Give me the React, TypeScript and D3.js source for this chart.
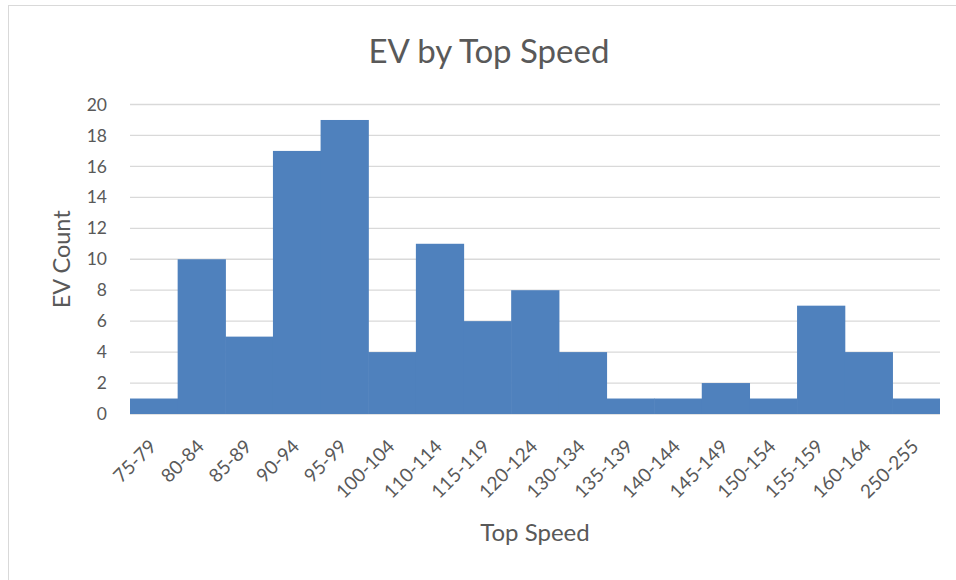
import { useEffect, useRef } from 'react';
import * as d3 from 'd3';

const categories = ['75-79', '80-84', '85-89', '90-94', '95-99', '100-104', '110-114', '115-119',
  '120-124', '130-134', '135-139', '140-144', '145-149', '150-154', '155-159', '160-164', '250-255'];
const counts = [1, 10, 5, 17, 19, 4, 11, 6, 8, 4, 1, 1, 2, 1, 7, 4, 1];
const yTicks = [0, 2, 4, 6, 8, 10, 12, 14, 16, 18, 20];

const FONT = 'Lato, "Open Sans", sans-serif';
const GREY = '#595959';

const App = () => {
  const svgRef = useRef<SVGSVGElement>(null);

  useEffect(() => {
    const width = 956;
    const height = 580;
    const margin = { top: 104.5, right: 16, bottom: 166, left: 130 };

    const svg = d3.select(svgRef.current);
    svg.selectAll('*').remove();
    svg.attr('width', width).attr('height', height);

    // chart border
    svg.append('rect')
      .attr('x', 8.5).attr('y', 5.5)
      .attr('width', 960).attr('height', 600)
      .attr('fill', '#fff')
      .attr('stroke', '#d9d9d9');

    const x = d3.scaleBand()
      .domain(categories)
      .range([margin.left, width - margin.right])
      .padding(0);

    const y = d3.scaleLinear()
      .domain([0, 20])
      .range([height - margin.bottom, margin.top]);

    // gridlines
    svg.append('g')
      .selectAll('line')
      .data(yTicks)
      .enter()
      .append('line')
      .attr('x1', margin.left)
      .attr('x2', width - margin.right)
      .attr('y1', d => y(d))
      .attr('y2', d => y(d))
      .attr('stroke', '#d9d9d9')
      .attr('stroke-width', 1.3);

    // bars (overlap a hair so no seams show)
    svg.append('g')
      .selectAll('rect')
      .data(counts)
      .enter()
      .append('rect')
      .attr('x', (_, i) => x(categories[i])!)
      .attr('y', d => y(d))
      .attr('width', (_, i) => x.bandwidth() + (i < counts.length - 1 ? 0.6 : 0))
      .attr('height', d => y(0) - y(d))
      .attr('fill', '#4f81bd');

    // y tick labels
    svg.append('g')
      .selectAll('text')
      .data(yTicks)
      .enter()
      .append('text')
      .attr('x', 107)
      .attr('y', d => y(d))
      .attr('dy', '0.35em')
      .attr('text-anchor', 'end')
      .style('font-family', FONT)
      .style('font-size', '17.5px')
      .attr('fill', GREY)
      .text(d => d);

    // x tick labels
    svg.append('g')
      .selectAll('text')
      .data(categories)
      .enter()
      .append('text')
      .attr('transform', d => `translate(${x(d)! + x.bandwidth() / 2 - 1},${y(0) + 29}) rotate(-45)`)
      .attr('text-anchor', 'end')
      .attr('dy', '0.35em')
      .style('font-family', FONT)
      .style('font-size', '19px')
      .attr('fill', GREY)
      .text(d => d);

    // title
    svg.append('text')
      .attr('x', 489)
      .attr('y', 63)
      .attr('text-anchor', 'middle')
      .style('font-family', FONT)
      .style('font-size', '33px')
      .attr('fill', GREY)
      .text('EV by Top Speed');

    // axis titles
    svg.append('text')
      .attr('x', (margin.left + width - margin.right) / 2)
      .attr('y', 541)
      .attr('text-anchor', 'middle')
      .style('font-family', FONT)
      .style('font-size', '24px')
      .attr('fill', GREY)
      .text('Top Speed');

    svg.append('text')
      .attr('transform', `translate(70,${(y(0) + y(20)) / 2}) rotate(-90)`)
      .attr('text-anchor', 'middle')
      .style('font-family', FONT)
      .style('font-size', '23.5px')
      .attr('fill', GREY)
      .text('EV Count');
  }, []);

  return <svg ref={svgRef} style={{ position: 'absolute', left: 0, top: 0, display: 'block' }}></svg>;
};

export default App;
